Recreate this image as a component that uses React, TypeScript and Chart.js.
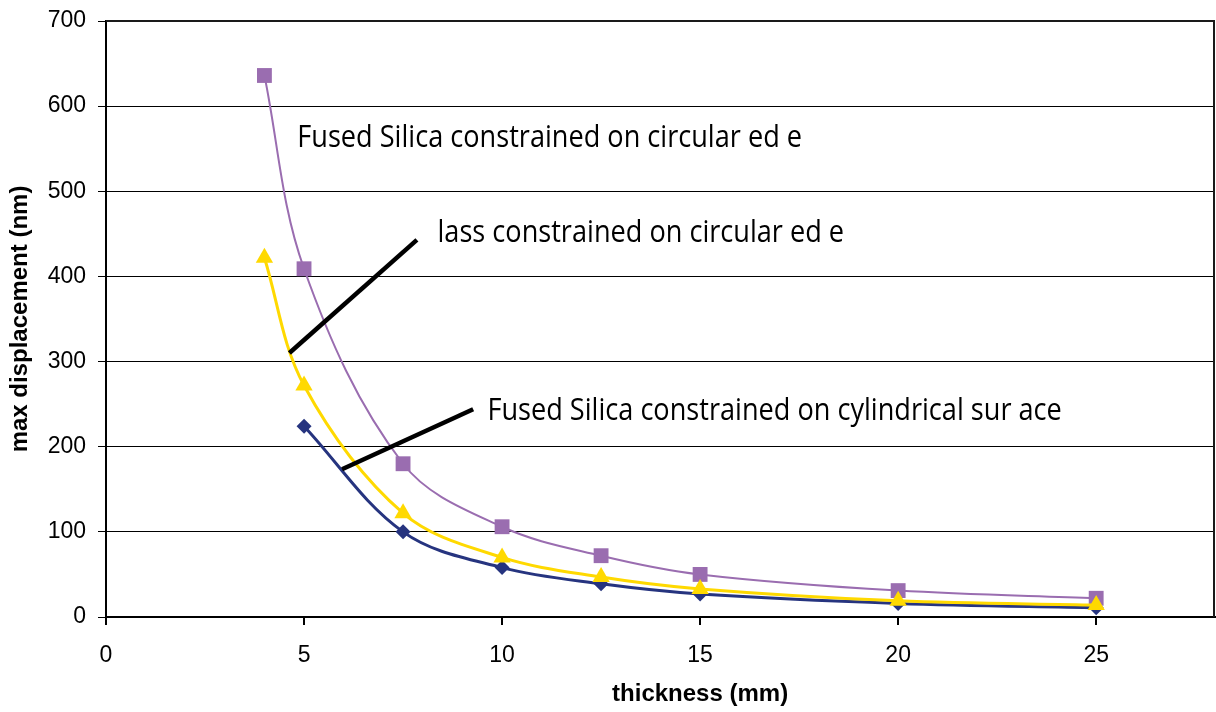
import { useEffect, useRef } from 'react';
import { Chart, registerables } from 'chart.js';

Chart.register(...registerables);

// ---- data ----
const thicknessEdge = [4, 5, 7.5, 10, 12.5, 15, 20, 25];
const fusedSilicaEdge = [636, 409, 180, 106, 72, 50, 31, 22];
const glassEdge = [422, 272, 122, 70, 47, 33, 19, 14];
const thicknessCyl = [5, 7.5, 10, 12.5, 15, 20, 25];
const fusedSilicaCyl = [224, 100, 58, 39, 27, 16, 11];

const xTicks = [0, 5, 10, 15, 20, 25];
const yTicks = [0, 100, 200, 300, 400, 500, 600, 700];

const annotationTexts = [
  'Fused Silica constrained on circular ed e',
  'lass constrained on circular ed e',
  'Fused Silica constrained on cylindrical sur ace',
];
const annotationX = [4.83, 8.37, 9.63];
const annotationY = [552, 440, 231];

const leaderX1 = [4.63, 5.96];
const leaderY1 = [310, 173.5];
const leaderX2 = [7.85, 9.27];
const leaderY2 = [443, 244];

const xTitle = 'thickness (mm)';
const xTitleAt = 15;
const yTitle = 'max displacement (nm)';

const PURPLE = '#9a6db0';
const YELLOW = '#ffd900';
const NAVY = '#26347f';

const toPts = (xs: number[], ys: number[]) => xs.map((x, i) => ({ x, y: ys[i] }));

const annotPlugin = {
  id: 'annot',
  afterDatasetsDraw(chart: any) {
    const { ctx, scales } = chart;
    const xs = scales.x;
    const ys = scales.y;
    ctx.save();
    ctx.strokeStyle = '#000';
    ctx.lineWidth = 4.5;
    ctx.lineCap = 'butt';
    for (let i = 0; i < leaderX1.length; i++) {
      ctx.beginPath();
      ctx.moveTo(xs.getPixelForValue(leaderX1[i]), ys.getPixelForValue(leaderY1[i]));
      ctx.lineTo(xs.getPixelForValue(leaderX2[i]), ys.getPixelForValue(leaderY2[i]));
      ctx.stroke();
    }
    ctx.fillStyle = '#000';
    ctx.font = '31px "Open Sans"';
    ctx.textAlign = 'left';
    ctx.textBaseline = 'alphabetic';
    const sx = 0.875;
    for (let i = 0; i < annotationTexts.length; i++) {
      const px = xs.getPixelForValue(annotationX[i]);
      const py = ys.getPixelForValue(annotationY[i]);
      ctx.save();
      ctx.translate(px, py);
      ctx.scale(sx, 1);
      ctx.fillText(annotationTexts[i], 0, 0);
      ctx.restore();
    }
    ctx.restore();
  },
  afterDraw(chart: any) {
    const { ctx, chartArea, scales } = chart;
    ctx.save();
    ctx.strokeStyle = '#1a1a1a';
    ctx.lineWidth = 2;
    ctx.beginPath();
    ctx.moveTo(chartArea.left, chartArea.top);
    ctx.lineTo(chartArea.right - 1, chartArea.top);
    ctx.lineTo(chartArea.right - 1, chartArea.bottom);
    ctx.stroke();
    ctx.fillStyle = '#000';
    ctx.font = 'bold 24px "Liberation Sans", Arial, sans-serif';
    ctx.textAlign = 'center';
    ctx.textBaseline = 'middle';
    ctx.fillText(xTitle, scales.x.getPixelForValue(xTitleAt), 694);
    ctx.restore();
  },
};

export default function App() {
  const ref = useRef<HTMLCanvasElement | null>(null);
  useEffect(() => {
    if (!ref.current) return;
    const tickFont = { family: '"Liberation Sans", Arial, sans-serif', size: 23 };
    const chart = new Chart(ref.current, {
      type: 'line',
      data: {
        datasets: [
          {
            label: 'Glass constrained on circular edge',
            data: toPts(thicknessEdge, glassEdge),
            borderColor: YELLOW,
            backgroundColor: YELLOW,
            borderWidth: 3,
            pointStyle: 'triangle',
            pointRadius: 10,
            pointBorderWidth: 0,
            tension: 0.35,
            order: 1,
          },
          {
            label: 'Fused Silica constrained on circular edge',
            data: toPts(thicknessEdge, fusedSilicaEdge),
            borderColor: PURPLE,
            backgroundColor: PURPLE,
            borderWidth: 2,
            pointStyle: 'rect',
            pointRadius: 10.5,
            pointBorderWidth: 0,
            tension: 0.35,
            order: 2,
          },
          {
            label: 'Fused Silica constrained on cylindrical surface',
            data: toPts(thicknessCyl, fusedSilicaCyl),
            borderColor: NAVY,
            backgroundColor: NAVY,
            borderWidth: 3,
            pointStyle: 'rectRot',
            pointRadius: 7.5,
            pointBorderWidth: 0,
            tension: 0.35,
            order: 3,
          },
        ],
      },
      options: {
        responsive: false,
        animation: false,
        layout: { autoPadding: false, padding: { top: 21, right: 1, left: 0, bottom: 0 } },
        plugins: { legend: { display: false }, tooltip: { enabled: false } },
        scales: {
          x: {
            type: 'linear',
            min: 0,
            max: 28,
            afterBuildTicks: (s: any) => {
              s.ticks = xTicks.map((v) => ({ value: v }));
            },
            afterFit: (s: any) => {
              s.height = 95;
              s.paddingLeft = 0;
              s.paddingRight = 0;
              s.paddingTop = 0;
              s.paddingBottom = 0;
            },
            grid: { drawOnChartArea: false, drawTicks: true, tickLength: 8, color: '#000', lineWidth: 2 },
            border: { display: true, color: '#000', width: 2 },
            ticks: { font: tickFont, color: '#000', padding: 17, maxRotation: 0 },
          },
          y: {
            type: 'linear',
            min: 0,
            max: 700,
            afterBuildTicks: (s: any) => {
              s.ticks = yTicks.map((v) => ({ value: v }));
            },
            afterFit: (s: any) => {
              s.width = 106;
              s.paddingLeft = 0;
              s.paddingRight = 0;
              s.paddingTop = 0;
              s.paddingBottom = 0;
            },
            grid: { drawOnChartArea: true, drawTicks: true, tickLength: 8, color: '#000', lineWidth: 1 },
            border: { display: true, color: '#000', width: 2 },
            ticks: { font: tickFont, color: '#000', padding: 12 },
            title: {
              display: true,
              text: yTitle,
              color: '#000',
              font: { family: '"Liberation Sans", Arial, sans-serif', size: 24, weight: 'bold' },
              padding: { top: 6, bottom: 0 },
            },
          },
        },
      },
      plugins: [annotPlugin],
    } as any);
    return () => chart.destroy();
  }, []);
  return (
    <div style={{ position: 'fixed', left: 0, top: 0, width: 1216, height: 712, background: '#fff' }}>
      <canvas ref={ref} width={1216} height={712} style={{ display: 'block' }} />
    </div>
  );
}
